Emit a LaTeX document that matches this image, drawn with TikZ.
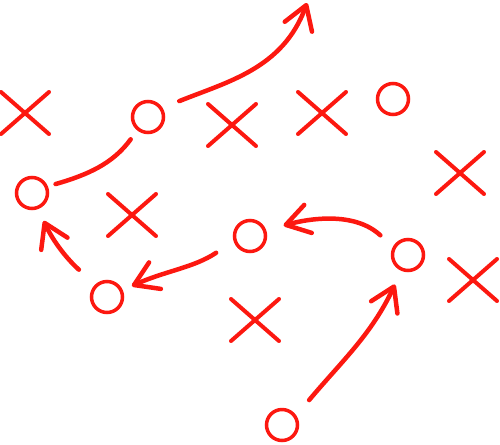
\documentclass[tikz,border=0pt]{standalone}
\usetikzlibrary{arrows.meta}
\usetikzlibrary{shapes.misc}
\definecolor{chalk}{RGB}{252,24,16}
\tikzset{>={Straight Barb[length=0.46cm,width=0.58cm,round]}}
\tikzset{
  player/.style={circle, draw=chalk, line width=0.07cm, minimum size=0.62cm, inner sep=0pt},
  defender/.style={cross out, draw=chalk, line width=0.08cm, line cap=round, minimum width=0.88cm, minimum height=0.76cm, inner sep=0pt},
  route/.style={draw=chalk, line width=0.09cm, line cap=round}
}
\begin{document}
\begin{tikzpicture}[x=0.02cm, y=0.02cm]
  \useasboundingbox (0,0) rectangle (500,444);
  % offence
  \node[player] (o1) at (148,327) {};
  \node[player] (o2) at (32,251) {};
  \node[player] (o3) at (393,345) {};
  \node[player] (o4) at (250,208) {};
  \node[player] (o5) at (107,147) {};
  \node[player] (o6) at (408,189) {};
  \node[player] (o7) at (282,19) {};
  % defence
  \node[defender] (x1) at (25,331) {};
  \node[defender] (x2) at (232,319) {};
  \node[defender] (x3) at (322,331) {};
  \node[defender] (x4) at (460,271) {};
  \node[defender] (x5) at (132,229) {};
  \node[defender] (x6) at (255,124) {};
  \node[defender] (x7) at (473,164) {};
  \coordinate (deep) at (307,441);

  % o1 goes deep
  \draw[route,->,shorten <=0.36cm] (o1.32) to[out=22,in=250] (deep);
  % o1 to o2
  \draw[route,shorten <=0.22cm,shorten >=0.16cm] (o1.231) to[out=234,in=16] (o2.23);
  % o5 to o2
  \draw[route,->,shorten <=0.44cm,shorten >=0.26cm] (o5.133) to[out=138,in=295] (o2.291);
  % o4 to o5
  \draw[route,->,shorten <=0.42cm,shorten >=0.2cm] (o4.197) to[out=214,in=24] (o5.24);
  % o6 to o4
  \draw[route,->,shorten <=0.34cm,shorten >=0.36cm] (o6.152) to[out=137,in=15] (o4.20);
  % o7 to o6
  \draw[route,->,shorten <=0.4cm,shorten >=0.3cm] (o7.34) to[out=50,in=245] (o6.247);
\end{tikzpicture}
\end{document}
